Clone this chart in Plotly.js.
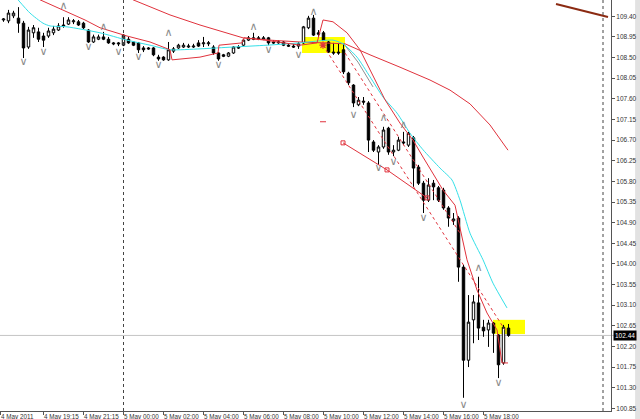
<!DOCTYPE html>
<html><head><meta charset="utf-8">
<script src="https://cdn.plot.ly/plotly-3.0.1.min.js"></script>
<style>html,body{margin:0;padding:0;background:#fff}#chart{width:640px;height:419px}</style>
</head><body><div id="chart"></div>
<script>
// ---- candles (M15 bars, index 0..101) ----
const openP = [109.32,109.30,109.41,109.36,109.25,108.73,109.04,109.06,108.97,108.97,
109.04,109.10,109.21,109.23,109.28,109.28,109.25,109.10,108.84,108.90,
108.95,108.90,108.82,108.82,108.77,108.90,108.84,108.82,108.71,108.71,
108.71,108.51,108.51,108.45,108.64,108.71,108.73,108.73,108.73,108.82,
108.80,108.80,108.73,108.60,108.56,108.53,108.60,108.73,108.77,108.88,
108.93,108.93,108.90,108.93,108.84,108.82,108.84,108.77,108.75,108.75,
108.82,109.15,109.36,109.04,109.04,108.84,108.62,108.62,108.67,108.16,
107.90,107.47,107.55,107.51,106.66,106.44,106.55,106.96,106.44,106.48,
106.66,106.59,106.75,106.11,105.76,105.39,105.76,105.66,105.61,105.22,
104.94,105.00,103.93,101.90,102.78,103.15,102.62,102.56,102.71,102.45,
101.84,102.60];
const highP = [109.36,109.54,109.52,109.60,109.30,109.17,109.21,109.15,109.04,109.15,
109.19,109.25,109.38,109.38,109.34,109.32,109.28,109.12,109.00,109.00,
109.06,108.95,108.84,108.84,109.01,108.95,108.86,108.84,108.75,108.73,
108.73,108.56,108.53,108.84,108.73,108.80,108.82,108.80,108.80,108.88,
108.95,108.86,108.77,108.62,108.58,108.62,108.75,108.77,108.90,108.97,
109.04,108.97,108.97,108.95,108.88,108.88,108.86,108.80,108.80,108.84,
109.19,109.41,109.43,109.10,109.08,108.86,108.82,108.82,108.80,108.19,
107.92,107.64,107.64,107.55,106.70,106.59,106.99,106.99,106.59,106.77,
106.88,106.88,106.79,106.16,105.81,105.87,105.83,105.70,105.66,105.26,
105.11,105.04,103.98,103.32,103.32,103.72,102.78,102.78,102.73,102.47,
102.67,102.69];
const lowP = [109.28,109.25,109.36,109.04,108.49,108.69,108.93,108.84,108.73,108.93,
108.99,109.08,109.15,109.21,109.23,109.19,109.12,108.82,108.82,108.88,
108.88,108.80,108.77,108.75,108.75,108.80,108.75,108.60,108.62,108.67,
108.53,108.43,108.43,108.43,108.60,108.69,108.71,108.71,108.71,108.73,
108.73,108.75,108.56,108.43,108.51,108.51,108.58,108.69,108.75,108.86,
108.88,108.88,108.88,108.77,108.80,108.80,108.75,108.73,108.71,108.69,
108.80,109.12,108.97,108.95,108.86,108.60,108.56,108.56,108.14,107.90,
107.42,107.44,107.47,106.44,106.44,106.16,106.51,106.38,106.35,106.46,
106.59,106.55,105.68,105.72,105.11,105.35,105.39,105.35,105.18,104.81,
104.85,103.61,101.08,101.75,102.27,102.34,102.41,102.19,102.06,101.51,
101.80,102.41];
const closeP = [109.34,109.47,109.47,109.25,108.71,109.10,109.15,108.90,108.88,109.08,
109.12,109.19,109.19,109.32,109.30,109.21,109.15,108.84,108.95,108.95,
108.90,108.82,108.80,108.80,108.99,108.82,108.77,108.67,108.67,108.69,
108.56,108.47,108.45,108.67,108.69,108.77,108.77,108.75,108.75,108.75,
108.82,108.82,108.60,108.47,108.53,108.60,108.73,108.71,108.88,108.93,
108.90,108.90,108.93,108.82,108.82,108.84,108.77,108.75,108.73,108.80,
109.17,109.36,108.99,109.01,108.88,108.62,108.60,108.60,108.19,107.95,
107.51,107.57,107.53,106.70,106.48,106.55,106.92,106.44,106.48,106.70,
106.64,106.85,106.09,105.76,105.39,105.72,105.68,105.39,105.22,105.00,
104.98,103.93,101.90,102.73,103.17,102.60,102.54,102.71,102.49,101.80,
102.62,102.44];
const barIdx = openP.map((_, k) => k);

// ---- x tick labels ----
const xTickIdx  = [-0.6, 8, 16, 24, 32, 40, 48, 56, 64, 72, 80, 88, 96];
const xTickText = ['4 May 2011','4 May 19:15','4 May 21:15','5 May 00:00','5 May 02:00','5 May 04:00',
  '5 May 06:00','5 May 08:00','5 May 10:00','5 May 12:00','5 May 14:00','5 May 16:00','5 May 18:00'];

// ---- indicator lines (bar index, price) ----
const cyanX = [2.9,5.3,7.9,9.3,12.7,19.3,24.7,29.3,33.3,39.3,45.9,52.7,59.3,62.7,65.9,67.9,70.7,73.3,75.9,78.7,81.3,83.9,87.3,89.7,91.3,93.3,95.9,97.9,100.7];
const cyanY = [109.76,109.47,109.25,109.19,109.17,109.04,108.88,108.77,108.67,108.69,108.73,108.77,108.82,108.86,108.88,108.80,108.51,108.08,107.64,107.29,106.85,106.49,106.09,105.83,105.39,104.67,104.09,103.58,103.04];
const grayX = [67.9,70.9,73.9];
const grayY = [108.82,108.40,107.86];
const fastRedX = [7.3,12.7,16.3,19.3,24.7,29.3,32.7,33.3,33.7,39.3,42.9,43.1,47.7,48.1,52.3,59.3,62.7,63.9,65.9,68.7,71.3,73.9,76.3,79.3,81.9,83.9,85.9,87.9,90.3,91.3,92.7,94.7,96.7,98.7,99.7,100.9];
const fastRedY = [109.76,109.49,109.32,109.15,108.97,108.84,108.69,108.67,108.45,108.51,108.60,108.77,108.82,108.93,108.88,108.77,108.82,109.32,109.28,109.04,108.67,108.12,107.58,107.07,106.70,106.33,105.98,105.61,105.28,104.80,104.09,103.43,102.93,102.56,101.84,101.84];
const slowRedX = [25.9,33.3,39.3,47.9,53.3,59.3,68.3,73.3,79.3,85.3,89.3,93.3,97.3,100.9];
const slowRedY = [109.76,109.43,109.21,108.93,108.88,108.84,108.80,108.56,108.29,108.01,107.79,107.49,107.03,106.48];
const channelX = [67.9,76.7,84.7];
const channelY = [106.64,106.05,105.44];
const dash1X = [63.9,100.3], dash1Y = [108.77,102.56];
const dash2X = [68.3,91.3],  dash2Y = [108.60,104.67];
const markX = [63.3,64.5],   markY = [107.10,107.10];
const starX = [63.9],        starY = [108.77];
const brownX = [110.5,120.9], brownY = [109.67,109.385];

// ---- fractals ----
const fracUpX = [12,20,33,50,62,76,80,95];
const fracUpY = [109.63,109.17,109.04,109.17,109.49,107.18,107.03,103.91];
const fracDnX = [4,8,17,23,27,31,43,53,59,70,75,78,84,92,99];
const fracDnY = [108.40,108.62,108.73,108.62,108.51,108.34,108.34,108.67,108.56,107.25,106.09,106.22,105.00,100.92,101.40];

// ---- objects ----
const yellowX0 = [59.7,97.9], yellowX1 = [68.3,104.3];
const yellowY0 = [108.60,102.47], yellowY1 = [108.95,102.78];
const separatorX = [24, 119.9];
const bidPrice = 102.44;

const FONT = 'Liberation Sans, Arial, sans-serif';
const RED = '#e0323c';

const traces = [
  {type:'candlestick', x:barIdx, open:openP, high:highP, low:lowP, close:closeP,
   increasing:{line:{color:'#000',width:1}, fillcolor:'#ffffff'},
   decreasing:{line:{color:'#000',width:1}, fillcolor:'#000000'},
   whiskerwidth:0, hoverinfo:'skip', showlegend:false},
  {type:'scatter', mode:'lines', x:slowRedX, y:slowRedY, line:{color:RED,width:1}, hoverinfo:'skip'},
  {type:'scatter', mode:'lines', x:grayX, y:grayY, line:{color:'#909090',width:1}, hoverinfo:'skip'},
  {type:'scatter', mode:'lines', x:cyanX, y:cyanY, line:{color:'#33e0e8',width:1, shape:'spline', smoothing:0.6}, hoverinfo:'skip'},
  {type:'scatter', mode:'lines', x:fastRedX, y:fastRedY, line:{color:RED,width:1}, hoverinfo:'skip'},
  {type:'scatter', mode:'lines', x:dash1X, y:dash1Y, line:{color:RED,width:1,dash:'3px,3px'}, hoverinfo:'skip'},
  {type:'scatter', mode:'lines', x:dash2X, y:dash2Y, line:{color:RED,width:1,dash:'3px,3px'}, hoverinfo:'skip'},
  {type:'scatter', mode:'lines+markers', x:channelX, y:channelY, line:{color:RED,width:1},
   marker:{symbol:'square-open', size:4, color:RED, line:{width:1}}, hoverinfo:'skip'},
  {type:'scatter', mode:'lines', x:markX, y:markY, line:{color:RED,width:1}, hoverinfo:'skip'},
  {type:'scatter', mode:'markers', x:starX, y:starY, marker:{symbol:'asterisk-open', size:6, color:RED, line:{width:1.2,color:RED}}, hoverinfo:'skip'},
  {type:'scatter', mode:'lines', x:brownX, y:brownY, line:{color:'#8b2a12',width:2}, hoverinfo:'skip'},
  {type:'scatter', mode:'text', x:fracUpX, y:fracUpY, text:fracUpX.map(()=> '\u2227'),
   textfont:{family:'DejaVu Sans', size:11, color:'#8a8a8a'}, hoverinfo:'skip'},
  {type:'scatter', mode:'text', x:fracDnX, y:fracDnY, text:fracDnX.map(()=> '\u2228'),
   textfont:{family:'DejaVu Sans', size:11, color:'#8a8a8a'}, hoverinfo:'skip'}
];

const shapes = [];
for (let k = 0; k < yellowX0.length; k++) {
  shapes.push({type:'rect', xref:'x', yref:'y', x0:yellowX0[k], x1:yellowX1[k], y0:yellowY0[k], y1:yellowY1[k],
    fillcolor:'#ffff00', line:{width:0}, layer:'below'});
}
separatorX.forEach(sx => shapes.push({type:'line', xref:'x', yref:'paper', x0:sx, x1:sx, y0:0, y1:1,
  line:{color:'#444', width:1, dash:'dot'}, layer:'above'}));
shapes.push({type:'line', xref:'paper', yref:'y', x0:0, x1:1.005, y0:bidPrice, y1:bidPrice,
  line:{color:'#c4c4c4', width:1}, layer:'below'});
shapes.push({type:'rect', xref:'paper', yref:'paper', x0:1.0395, x1:1.06, y0:-0.03, y1:1.01,
  fillcolor:'#e2e2e2', line:{width:0}, layer:'below'});

const annotations = xTickIdx.map((xv, k) => ({
  xref:'x', yref:'paper', x:xv, y:0, xanchor:'left', yanchor:'top', yshift:-1, xshift:-0.5,
  text:xTickText[k], showarrow:false, borderpad:0,
  font:{family:FONT, size:6.3, color:'#333'}
}));
annotations.push({xref:'paper', yref:'y', x:1, y:bidPrice, xanchor:'left', yanchor:'middle', xshift:2,
  text:bidPrice.toFixed(2), showarrow:false, bgcolor:'#000', borderpad:1,
  font:{family:FONT, size:6.5, color:'#fff'}});

const layout = {
  width:640, height:419,
  margin:{l:0, r:29, t:0, b:8, pad:0},
  paper_bgcolor:'#ffffff', plot_bgcolor:'#ffffff',
  showlegend:false,
  font:{family:FONT, size:6.5, color:'#333'},
  xaxis:{type:'linear', range:[-0.7, 121.5], showgrid:false, zeroline:false,
    tickmode:'array', tickvals:xTickIdx, showticklabels:false,
    ticks:'outside', ticklen:3, tickcolor:'#555', tickwidth:1,
    showline:true, linecolor:'#555', linewidth:1,
    rangeslider:{visible:false}, fixedrange:true},
  yaxis:{side:'right', range:[100.792, 109.7555], showgrid:false, zeroline:false,
    tick0:100.85, dtick:0.45, tickformat:'.2f',
    ticks:'outside', ticklen:3, tickcolor:'#555', tickwidth:1,
    showline:true, linecolor:'#555', linewidth:1,
    tickfont:{family:FONT, size:6.5, color:'#333'}, fixedrange:true},
  shapes:shapes,
  annotations:annotations
};

Plotly.newPlot('chart', traces, layout, {displayModeBar:false, staticPlot:true});
</script>
</body></html>
